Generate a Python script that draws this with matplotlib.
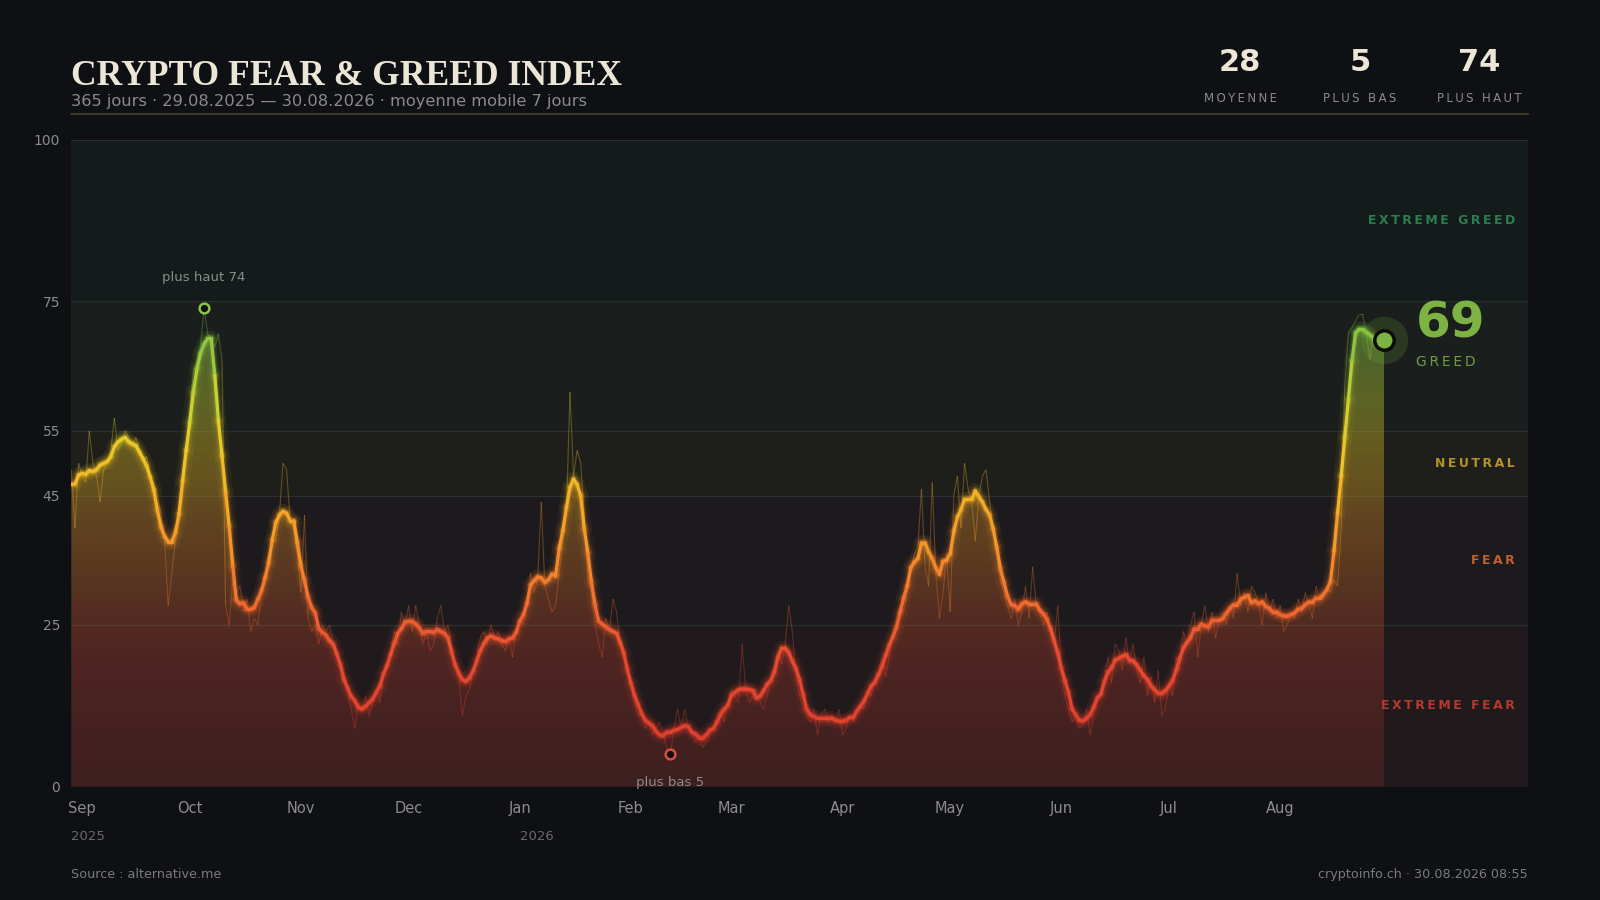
import numpy as np
import pandas as pd
import matplotlib
matplotlib.use("Agg")
import matplotlib.pyplot as plt
import matplotlib.dates as mdates
import matplotlib.transforms as mtransforms
from matplotlib.collections import LineCollection
from matplotlib.colors import LinearSegmentedColormap
from matplotlib.lines import Line2D

plt.rcParams['font.family'] = ['DejaVu Sans']

# daily index values, month by month (29.08.2025 -> 30.08.2026)
aug_2025 = [49, 40, 50]
sep_2025 = [48, 47, 55, 50, 48, 44, 49, 50, 52, 57, 52, 53, 55, 54, 53, 54, 52, 50, 51, 48,
            47, 45, 42, 38, 28, 33, 38, 41, 45, 52]
oct_2025 = [58, 64, 66, 68, 74, 70, 69, 68, 70, 66, 28, 25, 32, 30, 31, 27, 29, 24, 26, 25,
            30, 33, 36, 38, 38, 42, 50, 49, 41, 40, 36]
nov_2025 = [30, 42, 26, 24, 25, 22, 25, 24, 25, 22, 21, 19, 18, 15, 12, 9, 13, 12, 14, 11,
            13, 15, 13, 17, 19, 21, 24, 22, 27, 25]
dec_2025 = [28, 24, 28, 25, 22, 24, 21, 22, 26, 28, 24, 25, 22, 19, 17, 11, 14, 15, 18, 20,
            23, 24, 22, 25, 23, 24, 22, 21, 23, 20, 24]
jan_2026 = [26, 25, 28, 33, 30, 32, 44, 31, 29, 27, 28, 33, 38, 42, 61, 48, 52, 50, 42, 32,
            30, 25, 22, 20, 26, 24, 29, 27, 22, 20, 18]
feb_2026 = [16, 13, 11, 12, 9, 10, 8, 9, 10, 8, 6, 5, 9, 12, 9, 12, 9, 8, 7, 8,
            6, 7, 8, 9, 11, 12, 10, 13]
mar_2026 = [15, 14, 13, 22, 15, 13, 14, 15, 13, 12, 14, 17, 19, 21, 19, 22, 28, 24, 17, 14,
            12, 11, 10, 12, 8, 11, 12, 10, 11, 10, 12]
apr_2026 = [8, 9, 11, 10, 12, 13, 12, 15, 14, 17, 18, 20, 17, 20, 24, 26, 28, 27, 30, 33,
            36, 37, 46, 34, 31, 47, 33, 26, 30, 36]
may_2026 = [27, 45, 48, 40, 50, 46, 44, 38, 45, 48, 49, 44, 40, 36, 32, 30, 28, 26, 29, 25,
            27, 31, 26, 34, 28, 27, 25, 27, 24, 22, 28]
jun_2026 = [18, 14, 12, 10, 11, 9, 10, 12, 8, 11, 13, 15, 17, 20, 16, 22, 21, 18, 23, 19,
            22, 18, 16, 20, 14, 17, 13, 18, 11, 12]
jul_2026 = [16, 14, 20, 18, 24, 22, 25, 27, 20, 25, 28, 24, 27, 23, 26, 27, 25, 28, 26, 33,
            28, 30, 27, 31, 30, 28, 25, 30, 27, 29, 26]
aug_2026 = [28, 24, 25, 27, 26, 29, 27, 30, 28, 26, 31, 29, 29, 31, 30, 32, 31, 40, 62, 70,
            71, 72, 73, 73, 70, 66, 70, 68, 69, 69]

daily = np.array(aug_2025 + sep_2025 + oct_2025 + nov_2025 + dec_2025 + jan_2026 + feb_2026
                 + mar_2026 + apr_2026 + may_2026 + jun_2026 + jul_2026 + aug_2026, dtype=float)
dates = pd.date_range("2025-08-29", periods=len(daily), freq="D")

month_labels = ["Sep", "Oct", "Nov", "Dec", "Jan", "Feb", "Mar", "Apr", "May", "Jun", "Jul", "Aug"]
month_starts = pd.date_range("2025-09-01", periods=12, freq="MS")
year_labels = ["2025", "2026"]
year_dates = [dates[0], pd.Timestamp("2026-01-01")]

zone_edges = [0, 25, 45, 55, 75, 100]
zone_names = ["EXTREME FEAR", "FEAR", "NEUTRAL", "GREED", "EXTREME GREED"]
zone_bg = ['#201a1d', '#1d1a1d', '#1e1f1b', '#1a1f1d', '#131b1b']
zone_txt = ['#b23a2e', '#c0602a', '#b39228', None, '#2e7d4f']

BG = '#0e1013'
CREAM = '#ece6d6'
GREY = '#8c8c8c'

ma7 = pd.Series(daily).rolling(7, center=True, min_periods=1).mean().values
x = mdates.date2num(dates)

cmap = LinearSegmentedColormap.from_list("fg", [
    (0.0, '#d93a2b'), (0.20, '#e84a30'), (0.28, '#f06a2e'), (0.36, '#f5902a'),
    (0.45, '#f5b026'), (0.52, '#ecc828'), (0.60, '#c8d232'), (0.68, '#8fc640'),
    (1.0, '#5cb84c')])

fig = plt.figure(figsize=(16, 9), dpi=100, facecolor=BG)
ax = fig.add_axes([0.0446, 0.1259, 0.9102, 0.7188])
ax.set_facecolor(BG)
x0, x1 = x[0], x[0] + 406
ax.set_xlim(x0, x1)
ax.set_ylim(0, 100)

# zones
for i in range(5):
    ax.axhspan(zone_edges[i], zone_edges[i + 1], color=zone_bg[i], zorder=0, lw=0)
for e in zone_edges[1:]:
    ax.axhline(e, color='#2a302f', lw=0.9, zorder=1)
for i in range(5):
    if zone_txt[i]:
        ax.text(0.9914, (zone_edges[i] + zone_edges[i + 1]) / 2, '\u2009'.join(zone_names[i]),
                transform=mtransforms.blended_transform_factory(ax.transAxes, ax.transData),
                ha='right', va='center', fontsize=9, fontweight='bold', color=zone_txt[i], zorder=7)

# gradient fill under the curve
vals = np.linspace(0, 100, 256)
grad = cmap(vals / 100)
grad[:, 3] = 0.16 + 0.26 * np.clip(vals / 70, 0, 1)
grad = np.repeat(grad[:, None, :], 2, axis=1)
poly = ax.fill_between(x, 0, ma7, facecolor='none', edgecolor='none')
im = ax.imshow(grad, extent=[x[0], x[-1], 0, 100], aspect='auto', origin='lower',
               zorder=2, interpolation='bilinear')
im.set_clip_path(poly.get_paths()[0], transform=ax.transData)

# raw daily line
pts = np.column_stack([x, daily])
segs = np.stack([pts[:-1], pts[1:]], axis=1)
lc = LineCollection(segs, colors=cmap((daily[:-1] + daily[1:]) / 200), linewidths=0.8,
                    alpha=0.32, zorder=3)
ax.add_collection(lc)

# moving average with glow
pts = np.column_stack([x, ma7])
segs = np.stack([pts[:-1], pts[1:]], axis=1)
seg_cols = cmap((ma7[:-1] + ma7[1:]) / 200)
for lw, a, z in [(11, 0.05, 4), (6.5, 0.10, 4), (4, 0.22, 4), (2.3, 1.0, 5)]:
    ax.add_collection(LineCollection(segs, colors=seg_cols, linewidths=lw, alpha=a,
                                     zorder=z, capstyle='round', joinstyle='round'))

# extremes
imax = int(np.argmax(daily))
imin = int(np.argmin(daily))
ax.plot(x[imax], daily[imax], 'o', ms=7, mfc=BG, mec='#8bc34a', mew=1.8, zorder=6)
ax.plot(x[imin], daily[imin], 'o', ms=7, mfc=BG, mec='#d9503a', mew=1.8, zorder=6)
ax.annotate(f"plus haut {int(daily[imax])}", (x[imax], daily[imax]), xytext=(0, 22),
            textcoords='offset points', ha='center', va='center', fontsize=9.5, color=GREY)
ax.annotate(f"plus bas {int(daily[imin])}", (x[imin], daily[imin]), xytext=(0, -20.5),
            textcoords='offset points', ha='center', va='center', fontsize=9.5, color=GREY,
            annotation_clip=False)

# current value
cur = int(daily[-1])
ax.plot(x[-1], ma7[-1], 'o', ms=34, color='#7cb342', alpha=0.18, mew=0, zorder=6)
ax.plot(x[-1], ma7[-1], 'o', ms=14, mfc='#7cb342', mec='#0a0c0a', mew=2.5, zorder=7)
ax.annotate(str(cur), (x[-1], ma7[-1]), xytext=(22.5, 2), textcoords='offset points',
            ha='left', va='baseline', fontsize=36, fontweight='bold', color='#7cb342',
            annotation_clip=False)
ax.annotate('\u2009'.join("GREED"), (x[-1], ma7[-1]), xytext=(23, -15.5), textcoords='offset points',
            ha='left', va='center', fontsize=10, color='#6f9a45', annotation_clip=False)

# axes styling
for s in ax.spines.values():
    s.set_visible(False)
ax.set_yticks(zone_edges)
ax.set_yticklabels([str(v) for v in zone_edges])
ax.set_xticks(mdates.date2num(month_starts))
ax.set_xticklabels(month_labels)
ax.tick_params(axis='y', length=0, pad=8, labelsize=10, labelcolor=GREY)
ax.tick_params(axis='x', length=0, pad=10, labelsize=10.5, labelcolor=GREY)
btr = mtransforms.blended_transform_factory(ax.transData, fig.transFigure)
for lab, d in zip(year_labels, year_dates):
    ax.text(mdates.date2num(d), 0.0711, lab, transform=btr, ha='left', va='center',
            fontsize=9.5, color='#6a6a6a')

# header
fig.text(0.0446, 0.906, "CRYPTO FEAR & GREED INDEX", ha='left', va='baseline',
         fontsize=25.6, fontweight='bold', color=CREAM, family=['Liberation Serif', 'DejaVu Serif'])
fig.text(0.0446, 0.882, "365 jours · 29.08.2025 — 30.08.2026 · moyenne mobile 7 jours",
         ha='left', va='baseline', fontsize=11.7, color='#8a8a8a')
fig.add_artist(Line2D([0.0446, 0.9548], [0.873, 0.873], color='#4a4430', lw=1.2))

stats = [(str(int(round(daily.mean()))), "MOYENNE"),
         (str(int(daily.min())), "PLUS BAS"),
         (str(int(daily.max())), "PLUS HAUT")]
for (num, lab), cx in zip(stats, [0.775, 0.850, 0.9248]):
    fig.text(cx, 0.9215, num, ha='center', va='baseline', fontsize=22, fontweight='bold', color=CREAM)
    fig.text(cx, 0.887, '\u2009'.join(lab), ha='center', va='baseline', fontsize=8.5, color='#8a8a8a')

# footer
fig.text(0.0446, 0.0283, "Source : alternative.me", ha='left', va='center', fontsize=9.2, color='#7a7a7a')
fig.text(0.9548, 0.0283, "cryptoinfo.ch · 30.08.2026 08:55", ha='right', va='center',
         fontsize=9.2, color='#7a7a7a')

fig.savefig("out.png", dpi=100, facecolor=BG)
